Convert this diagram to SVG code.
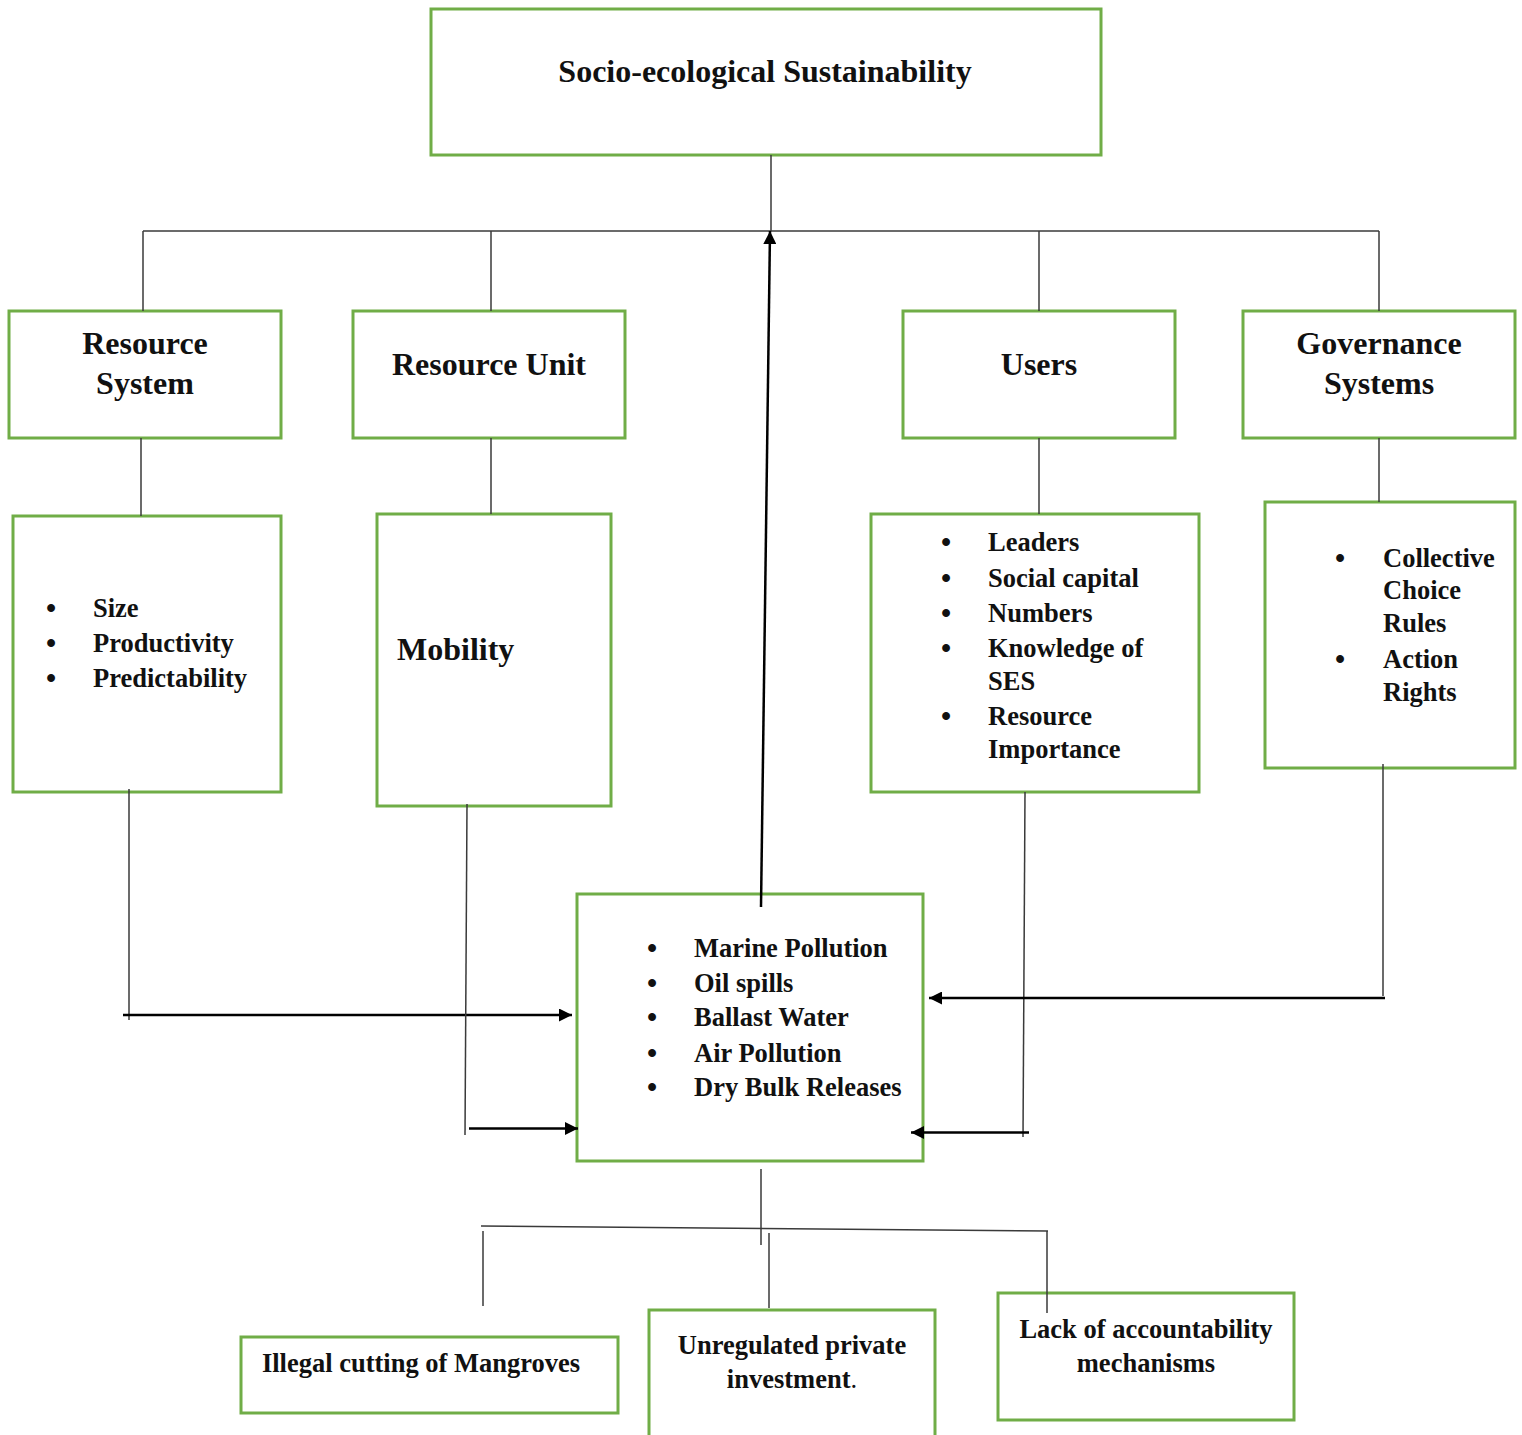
<svg xmlns="http://www.w3.org/2000/svg" width="1522" height="1435" viewBox="0 0 1522 1435">
<style>
.box{fill:#fff;stroke:#70AD47;stroke-width:3}
.ln{stroke:#3a3a3a;stroke-width:1.5;fill:none}
.ar{stroke:#000;stroke-width:2.5;fill:none;marker-end:url(#ah)}
text{font-family:"Liberation Serif","Times New Roman",serif;font-weight:bold;fill:#111}
.h{font-size:32px}
.t{font-size:26.5px}
.b{font-size:29px}
.c{text-anchor:middle}
</style>
<defs>
<marker id="ah" viewBox="0 0 10 10" refX="10" refY="5" markerUnits="userSpaceOnUse" markerWidth="17" markerHeight="13" orient="auto">
<path d="M0,0 L10,5 L0,10 z" fill="#000"/>
</marker>
</defs>
<rect width="1522" height="1435" fill="#fff"/>

<g id="n-top">
<rect class="box" x="431" y="9" width="670" height="146"/>
<text class="h c" x="765" y="82">Socio-ecological Sustainability</text>
</g>

<g id="n-resource-system">
<rect class="box" x="9" y="311" width="272" height="127"/>
<text class="h c" x="145" y="354">Resource</text>
<text class="h c" x="145" y="394">System</text>
</g>

<g id="n-resource-unit">
<rect class="box" x="353" y="311" width="272" height="127"/>
<text class="h c" x="489" y="375">Resource Unit</text>
</g>

<g id="n-users">
<rect class="box" x="903" y="311" width="272" height="127"/>
<text class="h c" x="1039" y="375">Users</text>
</g>

<g id="n-governance">
<rect class="box" x="1243" y="311" width="272" height="127"/>
<text class="h c" x="1379" y="354">Governance</text>
<text class="h c" x="1379" y="394">Systems</text>
</g>

<g id="n-rs-list">
<rect class="box" x="13" y="516" width="268" height="276"/>
<text class="b" x="46" y="618">•</text><text class="t" x="93" y="617">Size</text>
<text class="b" x="46" y="653">•</text><text class="t" x="93" y="652">Productivity</text>
<text class="b" x="46" y="688">•</text><text class="t" x="93" y="687">Predictability</text>
</g>

<g id="n-ru-list">
<rect class="box" x="377" y="514" width="234" height="292"/>
<text class="h" x="397" y="660">Mobility</text>
</g>

<g id="n-users-list">
<rect class="box" x="871" y="514" width="328" height="278"/>
<text class="b" x="941" y="552">•</text><text class="t" x="988" y="551">Leaders</text>
<text class="b" x="941" y="588">•</text><text class="t" x="988" y="587">Social capital</text>
<text class="b" x="941" y="623">•</text><text class="t" x="988" y="622">Numbers</text>
<text class="b" x="941" y="658">•</text><text class="t" x="988" y="657">Knowledge of</text>
<text class="t" x="988" y="690">SES</text>
<text class="b" x="941" y="726">•</text><text class="t" x="988" y="725">Resource</text>
<text class="t" x="988" y="758">Importance</text>
</g>

<g id="n-gov-list">
<rect class="box" x="1265" y="502" width="250" height="266"/>
<text class="b" x="1335" y="568">•</text><text class="t" x="1383" y="567">Collective</text>
<text class="t" x="1383" y="599">Choice</text>
<text class="t" x="1383" y="632">Rules</text>
<text class="b" x="1335" y="669">•</text><text class="t" x="1383" y="668">Action</text>
<text class="t" x="1383" y="701">Rights</text>
</g>

<g id="n-center">
<rect class="box" x="577" y="894" width="346" height="267"/>
<text class="b" x="647" y="958">•</text><text class="t" x="694" y="957">Marine Pollution</text>
<text class="b" x="647" y="993">•</text><text class="t" x="694" y="992">Oil spills</text>
<text class="b" x="647" y="1027">•</text><text class="t" x="694" y="1026">Ballast Water</text>
<text class="b" x="647" y="1063">•</text><text class="t" x="694" y="1062">Air Pollution</text>
<text class="b" x="647" y="1097">•</text><text class="t" x="694" y="1096">Dry Bulk Releases</text>
</g>

<g id="n-illegal">
<rect class="box" x="241" y="1337" width="377" height="76"/>
<text class="t c" x="421" y="1372">Illegal cutting of Mangroves</text>
</g>

<g id="n-unregulated">
<rect class="box" x="649" y="1310" width="286" height="140"/>
<text class="t c" x="792" y="1354">Unregulated private</text>
<text class="t c" x="792" y="1388">investment<tspan font-weight="normal">.</tspan></text>
</g>

<g id="n-lack">
<rect class="box" x="998" y="1293" width="296" height="127"/>
<text class="t c" x="1146" y="1338">Lack of accountability</text>
<text class="t c" x="1146" y="1372">mechanisms</text>
</g>

<g id="connectors">
<line class="ln" x1="771" y1="155" x2="771" y2="231"/>
<line class="ln" x1="143" y1="231" x2="1379" y2="231"/>
<line class="ln" x1="143" y1="231" x2="143" y2="311"/>
<line class="ln" x1="491" y1="231" x2="491" y2="311"/>
<line class="ln" x1="1039" y1="231" x2="1039" y2="311"/>
<line class="ln" x1="1379" y1="231" x2="1379" y2="311"/>
<line class="ln" x1="141" y1="438" x2="141" y2="516"/>
<line class="ln" x1="491" y1="438" x2="491" y2="514"/>
<line class="ln" x1="1039" y1="438" x2="1039" y2="514"/>
<line class="ln" x1="1379" y1="438" x2="1379" y2="502"/>
<line class="ln" x1="129" y1="789" x2="129" y2="1020"/>
<line class="ar" x1="123" y1="1015" x2="572" y2="1015"/>
<line class="ln" x1="467" y1="804" x2="465" y2="1135"/>
<line class="ar" x1="469" y1="1128.5" x2="578" y2="1128.5"/>
<line class="ln" x1="1025" y1="792" x2="1023" y2="1137"/>
<line class="ar" x1="1029" y1="1132.5" x2="911" y2="1132.5"/>
<line class="ln" x1="1383" y1="764" x2="1383" y2="996"/>
<line class="ar" x1="1385" y1="998" x2="929" y2="998"/>
<line class="ar" x1="761" y1="907" x2="770" y2="231"/>
<line class="ln" x1="761" y1="1169" x2="761" y2="1245"/>
<line class="ln" x1="481" y1="1226" x2="1048" y2="1231"/>
<line class="ln" x1="483" y1="1231" x2="483" y2="1306"/>
<line class="ln" x1="769" y1="1233" x2="769" y2="1308"/>
<line class="ln" x1="1047" y1="1231" x2="1047" y2="1313"/>
</g>
</svg>
